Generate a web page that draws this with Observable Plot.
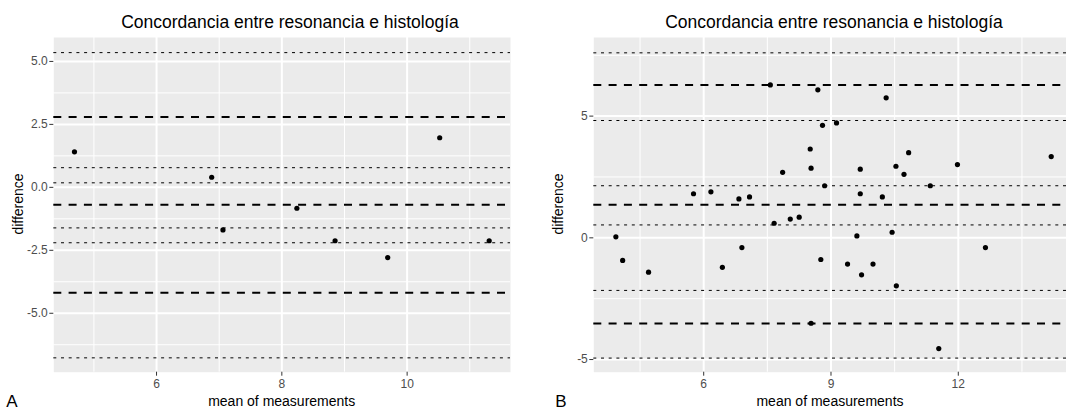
<!DOCTYPE html>
<html><head><meta charset="utf-8">
<script src="https://cdn.jsdelivr.net/npm/d3@7"></script>
<script src="https://cdn.jsdelivr.net/npm/@observablehq/plot@0.6"></script>
<style>
body{margin:0;background:#fff;}
#wrap{position:relative;width:1066px;height:413px;overflow:hidden;font-family:"Liberation Sans",Arial,sans-serif;}
#wrap svg{position:absolute;top:0;}
</style></head><body><div id="wrap"></div>
<script>
const titleText = "Concordancia entre resonancia e histología";
const xLabel = "mean of measurements";
const yLabel = "difference";
const panelTags = ["A", "B"];

// Panel A data
const aMean = [4.69, 6.88, 7.06, 8.24, 8.85, 9.69, 10.52, 11.31];
const aDiff = [1.41, 0.40, -1.69, -0.83, -2.12, -2.79, 1.97, -2.12];
const aDashed = [2.79, -0.69, -4.19];
const aDotted = [5.35, 0.78, 0.18, -1.61, -2.20, -6.77];
const aXTicks = [6, 8, 10];
const aXMinor = [5, 7, 9, 11];
const aYTicks = [5, 2.5, 0, -2.5, -5];
const aYTickLabels = ["5.0", "2.5", "0.0", "-2.5", "-5.0"];
const aYMinor = [3.75, 1.25, -1.25, -3.75, -6.25];

// Panel B data
const bMean = [7.57, 8.69, 10.30, 8.80, 9.13, 8.51, 10.83, 14.19, 11.98, 10.53,
  8.53, 9.69, 7.86, 10.72, 8.85, 11.34, 5.76, 6.17, 9.69, 6.83,
  7.08, 10.21, 7.66, 8.04, 8.25, 10.44, 3.93, 4.09, 4.70, 6.44,
  6.90, 8.76, 8.53, 9.39, 9.61, 9.72, 9.99, 10.54, 11.54, 12.64];
const bDiff = [6.28, 6.08, 5.75, 4.62, 4.72, 3.65, 3.50, 3.34, 3.01, 2.94,
  2.86, 2.82, 2.69, 2.61, 2.14, 2.14, 1.81, 1.89, 1.81, 1.60,
  1.68, 1.68, 0.60, 0.77, 0.85, 0.23, 0.04, -0.93, -1.41, -1.21,
  -0.40, -0.89, -3.51, -1.08, 0.08, -1.52, -1.08, -1.97, -4.55, -0.40];
const bDashed = [6.28, 1.36, -3.52];
const bDotted = [7.60, 4.82, 2.14, 0.53, -2.16, -4.94];
const bXTicks = [6, 9, 12];
const bXMinor = [4.5, 7.5, 10.5, 13.5];
const bYTicks = [5, 0, -5];
const bYTickLabels = ["5", "0", "-5"];
const bYMinor = [7.5, 2.5, -2.5];

function panel(cfg) {
  const pts = cfg.mean.map((m, i) => ({m, d: cfg.diff[i]}));
  const svg = Plot.plot({
    width: cfg.width,
    height: 413,
    marginTop: 37,
    marginBottom: 41.3,
    marginLeft: 53.3,
    marginRight: cfg.marginRight,
    style: {fontFamily: '"Liberation Sans", Arial, sans-serif', background: "transparent"},
    x: {domain: cfg.xDomain},
    y: {domain: cfg.yDomain},
    marks: [
      Plot.frame({fill: "#ebebeb", stroke: null}),
      Plot.ruleX(cfg.xMinor, {stroke: "#ffffff", strokeWidth: 1}),
      Plot.ruleY(cfg.yMinor, {stroke: "#ffffff", strokeWidth: 1}),
      Plot.ruleX(cfg.xTicks, {stroke: "#ffffff", strokeWidth: 2}),
      Plot.ruleY(cfg.yTicks, {stroke: "#ffffff", strokeWidth: 2}),
      Plot.ruleY(cfg.dotted, {stroke: "#000", strokeWidth: 1, strokeDasharray: "3,4.7"}),
      Plot.ruleY(cfg.dashed, {stroke: "#000", strokeWidth: 2, strokeDasharray: "8,7.3"}),
      Plot.dot(pts, {x: "m", y: "d", r: 2.6, fill: "#000", stroke: null}),
      Plot.axisX(cfg.xTicks, {tickSize: 4, tickPadding: 3, fontSize: 12, stroke: "#333333", fill: "#4d4d4d", label: null}),
      Plot.axisY(cfg.yTicks, {tickSize: 4, tickPadding: 2, fontSize: 12, stroke: "#333333", fill: "#4d4d4d", label: null,
        tickFormat: (d) => cfg.yTickLabels[cfg.yTicks.indexOf(d)]})
    ]
  });
  svg.style.left = cfg.left + "px";
  const s = d3.select(svg);
  const ff = '"Liberation Sans", Arial, sans-serif';
  s.append("text").attr("x", cfg.titleX).attr("y", 27.5).attr("text-anchor", "middle")
    .attr("font-size", 17.5).attr("font-family", ff).attr("fill", "#000").text(titleText);
  s.append("text").attr("x", cfg.panelCenter).attr("y", 406).attr("text-anchor", "middle")
    .attr("font-size", 14).attr("font-family", ff).attr("fill", "#000").text(xLabel);
  s.append("text").attr("transform", `translate(23,204) rotate(-90)`).attr("text-anchor", "middle")
    .attr("font-size", 14).attr("font-family", ff).attr("fill", "#000").text(yLabel);
  s.append("text").attr("x", cfg.tagX).attr("y", 407).attr("font-size", 17)
    .attr("font-family", ff).attr("fill", "#000").text(cfg.tag);
  document.getElementById("wrap").appendChild(svg);
}

panel({
  left: 0, width: 540, marginRight: 30,
  xDomain: [4.36, 11.65], yDomain: [-7.34, 5.95],
  mean: aMean, diff: aDiff, dashed: aDashed, dotted: aDotted,
  xTicks: aXTicks, xMinor: aXMinor, yTicks: aYTicks, yTickLabels: aYTickLabels, yMinor: aYMinor,
  titleX: 290, panelCenter: 281.7, tagX: 12, tag: panelTags[0]
});
panel({
  left: 540, width: 526, marginRight: 0,
  xDomain: [3.41, 14.55], yDomain: [-5.52, 8.23],
  mean: bMean, diff: bDiff, dashed: bDashed, dotted: bDotted,
  xTicks: bXTicks, xMinor: bXMinor, yTicks: bYTicks, yTickLabels: bYTickLabels, yMinor: bYMinor,
  titleX: 294, panelCenter: 290, tagX: 21, tag: panelTags[1]
});
</script></body></html>
